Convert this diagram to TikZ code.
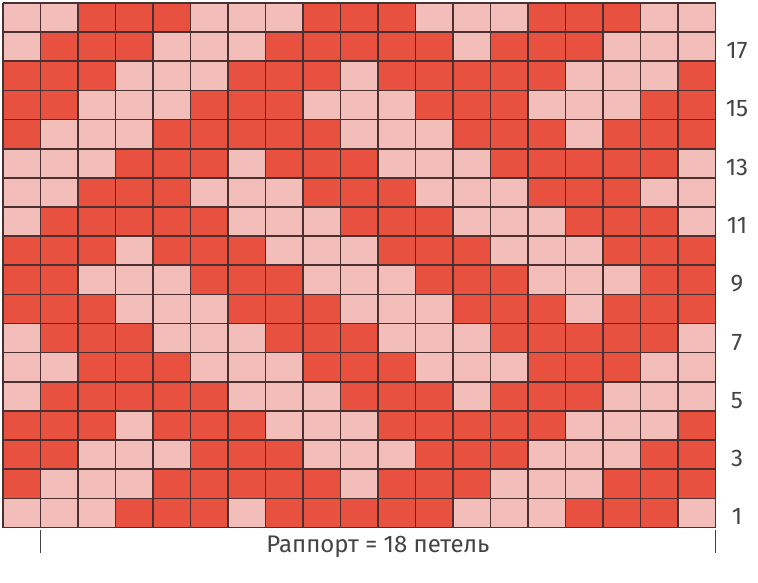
\documentclass[tikz,border=0pt]{standalone}
\usepackage{fontspec}
\setmainfont{Fira Sans}
\definecolor{c0}{HTML}{F3BEBA}
\definecolor{c1}{HTML}{E8503F}
\definecolor{gridc}{HTML}{4A3030}
\definecolor{txtc}{HTML}{444444}
\begin{document}
\begin{tikzpicture}[x=1pt,y=-1pt,
  gl/.style={draw=gridc,line width=1.6pt},
  lab/.style={font=\fontsize{24}{24}\selectfont,text=txtc,inner sep=0pt,anchor=center},
  tick/.style={draw=txtc,line width=1.1pt}]
\useasboundingbox[fill=white] (0,0) rectangle (758,582);
\def\W{37.5}
\def\H{29.1389}
\foreach \row [count=\j] in {
{0,0,1,1,1,0,0,0,1,1,1,0,0,0,1,1,1,0,0},
{0,1,1,1,0,0,0,1,1,1,1,1,0,1,1,1,0,0,0},
{1,1,1,0,0,0,1,1,1,0,1,1,1,1,1,0,0,0,1},
{1,1,0,0,0,1,1,1,0,0,0,1,1,1,0,0,0,1,1},
{1,0,0,0,1,1,1,1,1,0,0,0,1,1,1,0,1,1,1},
{0,0,0,1,1,1,0,1,1,1,0,0,0,1,1,1,1,1,0},
{0,0,1,1,1,0,0,0,1,1,1,0,0,0,1,1,1,0,0},
{0,1,1,1,1,1,0,0,0,1,1,1,0,0,0,1,1,1,0},
{1,1,1,0,1,1,1,0,0,0,1,1,1,0,0,0,1,1,1},
{1,1,0,0,0,1,1,1,0,0,0,1,1,1,0,0,0,1,1},
{1,1,1,0,0,0,1,1,1,0,0,0,1,1,1,0,1,1,1},
{0,1,1,1,0,0,0,1,1,1,0,0,0,1,1,1,1,1,0},
{0,0,1,1,1,0,0,0,1,1,1,0,0,0,1,1,1,0,0},
{0,1,1,1,1,1,0,0,0,1,1,1,0,1,1,1,0,0,0},
{1,1,1,0,1,1,1,0,0,0,1,1,1,1,1,0,0,0,1},
{1,1,0,0,0,1,1,1,0,0,0,1,1,1,0,0,0,1,1},
{1,0,0,0,1,1,1,1,1,0,1,1,1,0,0,0,1,1,1},
{0,0,0,1,1,1,0,1,1,1,1,1,0,0,0,1,1,1,0}}{
  \foreach \v [count=\i] in \row {
    \fill[c\v] ({3+(\i-1)*\W},{3+(\j-1)*\H}) rectangle ++(\W,\H);
  }
}
\foreach \i in {0,...,19} \draw[gl] ({3+\i*\W},3) -- ({3+\i*\W},527.5);
\foreach \j in {0,...,18} \draw[gl] (3,{3+\j*\H}) -- (715.5,{3+\j*\H});
\foreach \k in {1,3,...,17}
  \node[lab] (n\k) at (737,{527.5-(\k-0.5)*\H+4}) {\k};
\coordinate (tla) at (40.5,530);
\coordinate (tlb) at (40.5,553);
\coordinate (tra) at (715.5,530);
\coordinate (trb) at (715.5,553);
\draw[tick] (tla) -- (tlb);
\draw[tick] (tra) -- (trb);
\node[lab] (rap) at (378,547) {Раппорт = 18 петель};
\end{tikzpicture}
\end{document}
